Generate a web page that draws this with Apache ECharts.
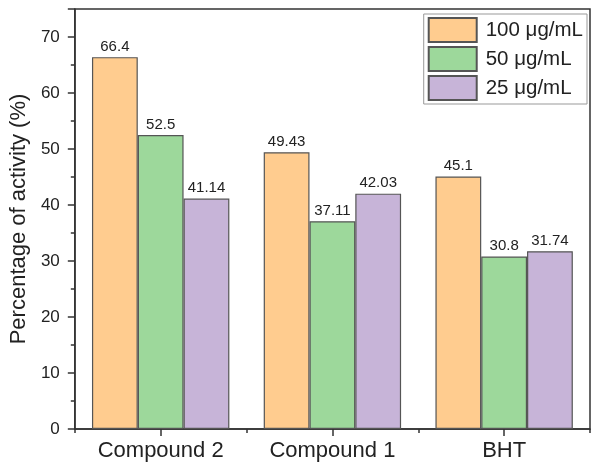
<!DOCTYPE html>
<html><head><meta charset="utf-8">
<script src="https://cdn.jsdelivr.net/npm/echarts@6/dist/echarts.min.js"></script>
<style>html,body{margin:0;padding:0;background:#fff}#c{width:594px;height:468px}</style>
</head><body><div id="c"></div>
<script>
const categories = ['Compound 2', 'Compound 1', 'BHT'];
const seriesNames = ['100 μg/mL', '50 μg/mL', '25 μg/mL'];
const v100 = [66.4, 49.43, 45.1];
const v50 = [52.5, 37.11, 30.8];
const v25 = [41.14, 42.03, 31.74];
const yTicks = [0, 10, 20, 30, 40, 50, 60, 70];

const colors = ['#FFCC8F', '#9DD89B', '#C7B4D8'];
const values = [v100, v50, v25];
const font = 'Arial, "Liberation Sans", sans-serif';

const chart = echarts.init(document.getElementById('c'), null, {renderer: 'canvas'});
chart.setOption({
  animation: false,
  grid: {left: 71, right: 4, top: 9, bottom: 39, show: true, borderColor: '#333', borderWidth: 1.5, backgroundColor: 'transparent'},
  legend: {
    orient: 'vertical', right: 7, top: 14,
    icon: 'rect',
    itemWidth: 48, itemHeight: 24, itemGap: 3,
    padding: [3, 4, 3, 4],
    borderColor: '#999', borderWidth: 1,
    textStyle: {fontFamily: font, fontSize: 20.5, color: '#222', padding: [0, 0, 0, 4]},
    data: seriesNames
  },
  xAxis: [{
    type: 'category', data: categories,
    axisLine: {lineStyle: {color: '#333', width: 1.5}},
    axisTick: {show: true, length: 4, lineStyle: {color: '#333', width: 1.5}},
    axisLabel: {fontFamily: font, fontSize: 22, color: '#222', margin: 11}
  }, {
    type: 'category', data: categories, position: 'bottom',
    axisLine: {show: false},
    axisTick: {show: true, alignWithLabel: true, length: 7, lineStyle: {color: '#333', width: 1.5}},
    axisLabel: {show: false}
  }],
  yAxis: {
    type: 'value', min: 0, max: 75, interval: 10,
    name: 'Percentage of activity (%)', nameLocation: 'middle', nameGap: 40,
    nameTextStyle: {fontFamily: font, fontSize: 22, color: '#222'},
    axisLine: {show: true, lineStyle: {color: '#333', width: 1.5}},
    axisTick: {show: true, length: 7, lineStyle: {color: '#333', width: 1.5}},
    minorTick: {show: true, splitNumber: 2, length: 4, lineStyle: {color: '#333', width: 1.5}},
    splitLine: {show: false},
    axisLabel: {fontFamily: font, fontSize: 17, color: '#222', margin: 15,
      formatter: v => yTicks.includes(v) ? String(v) : ''}
  },
  series: seriesNames.map((n, i) => ({
    name: n, type: 'bar', data: values[i], xAxisIndex: 0,
    barGap: '0%', barCategoryGap: '20%',
    itemStyle: {color: colors[i], borderColor: '#555', borderWidth: 1.2},
    label: {show: true, position: 'top', distance: 3, fontFamily: font, fontSize: 15, color: '#222'}
  }))
});
</script></body></html>
